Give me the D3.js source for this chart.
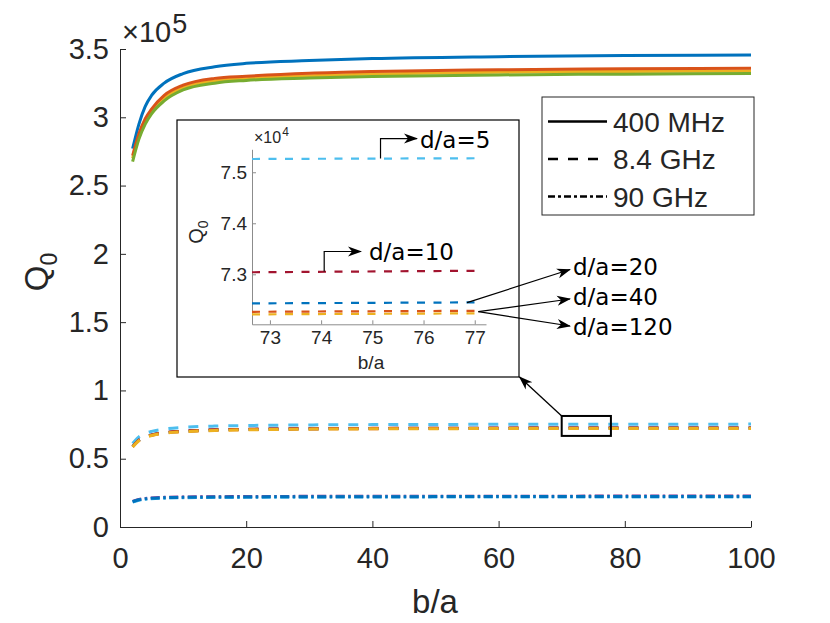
<!DOCTYPE html>
<html lang="en">
<head>
<meta charset="utf-8">
<script src="https://d3js.org/d3.v7.min.js"></script>
<style>
  body { margin: 0; background: #fff; }
  svg text { font-family: "Liberation Sans", Arial, sans-serif; fill: #262626; }
  svg text.ann { font-family: "DejaVu Sans", sans-serif; fill: #000; }
</style>
</head>
<body>
<div id="chart"></div>
<script>
  // b/a sample points
  const baRatio = [2, 3, 4, 5, 7, 10, 15, 20, 30, 40, 60, 80, 100];

  // 400 MHz, solid (x 1e5)
  const q400Blue   = [2.77, 2.95, 3.08, 3.16, 3.25, 3.32, 3.37, 3.395, 3.415, 3.43, 3.444, 3.452, 3.456];
  const q400Yellow = [2.70, 2.865, 2.975, 3.045, 3.14, 3.218, 3.267, 3.283, 3.304, 3.317, 3.33, 3.336, 3.339];
  const q400Orange = [2.72, 2.88, 2.99, 3.06, 3.16, 3.235, 3.285, 3.30, 3.322, 3.335, 3.348, 3.355, 3.359];
  const q400Green  = [2.675, 2.84, 2.95, 3.025, 3.12, 3.20, 3.25, 3.27, 3.287, 3.298, 3.31, 3.316, 3.32];

  // 8.4 GHz, dashed (x 1e5), one series per d/a
  const q84Da5   = [0.612, 0.660, 0.685, 0.700, 0.717, 0.729, 0.739, 0.743, 0.7475, 0.7497, 0.7518, 0.7528, 0.7533];
  const q84Da10  = [0.594, 0.641, 0.665, 0.679, 0.696, 0.707, 0.717, 0.721, 0.7255, 0.7277, 0.7297, 0.7307, 0.7312];
  const q84Da20  = [0.589, 0.636, 0.660, 0.674, 0.690, 0.701, 0.711, 0.715, 0.7195, 0.7217, 0.7237, 0.7246, 0.7251];
  const q84Da40  = [0.588, 0.634, 0.658, 0.672, 0.688, 0.699, 0.709, 0.713, 0.7178, 0.720, 0.722, 0.7229, 0.7234];
  const q84Da120 = [0.585, 0.632, 0.656, 0.670, 0.686, 0.697, 0.707, 0.711, 0.7165, 0.7187, 0.7207, 0.7216, 0.7221];

  // 90 GHz, dash-dot (x 1e5)
  const q90Purple = [0.188, 0.202, 0.209, 0.213, 0.217, 0.220, 0.222, 0.223, 0.2245, 0.225, 0.2258, 0.2262, 0.2265];
  const q90Cyan   = [0.182, 0.196, 0.203, 0.207, 0.211, 0.214, 0.216, 0.217, 0.2185, 0.219, 0.2198, 0.2202, 0.2205];
  const q90Blue   = [0.185, 0.199, 0.206, 0.210, 0.214, 0.217, 0.219, 0.220, 0.2215, 0.222, 0.2228, 0.2232, 0.2235];

  // inset (x 1e4), line ends at the inset axis limits
  const insetBa     = [72.65, 77.15];
  const insetDa5    = [7.526, 7.5275];
  const insetDa10   = [7.304, 7.307];
  const insetDa20   = [7.243, 7.245];
  const insetDa40   = [7.2265, 7.2285];
  const insetDa120  = [7.2215, 7.2235];

  const xTicks = [0, 20, 40, 60, 80, 100];
  const yTicks = [0, 0.5, 1, 1.5, 2, 2.5, 3, 3.5];
  const insetXTicks = [73, 74, 75, 76, 77];
  const insetYTicks = [7.3, 7.4, 7.5];
  const legendLabels = ["400 MHz", "8.4 GHz", "90 GHz"];
  const daLabels = ["d/a=5", "d/a=10", "d/a=20", "d/a=40", "d/a=120"];

  const svgWidth = 830, svgHeight = 623;

  const svg = d3.select("#chart")
    .append("svg")
    .attr("width", svgWidth)
    .attr("height", svgHeight);

  const x = d3.scaleLinear().domain([0, 100]).range([120, 751]);
  const y = d3.scaleLinear().domain([0, 3.5]).range([527, 49]);

  // arrow head
  svg.append("defs").append("marker")
    .attr("id", "head")
    .attr("viewBox", "0 -6 14 12")
    .attr("refX", 13).attr("refY", 0)
    .attr("markerWidth", 14).attr("markerHeight", 12)
    .attr("markerUnits", "userSpaceOnUse")
    .attr("orient", "auto")
    .append("path")
    .attr("d", "M0,-5L14,0L0,5L4,0Z")
    .attr("fill", "#000");

  // axes
  const xAxis = svg.append("g")
    .attr("transform", "translate(0,527)")
    .call(d3.axisBottom(x).tickValues(xTicks).tickSizeInner(-6).tickSizeOuter(0).tickPadding(20));
  const yAxis = svg.append("g")
    .attr("transform", "translate(120,0)")
    .call(d3.axisLeft(y).tickValues(yTicks).tickSizeInner(-6).tickSizeOuter(0).tickPadding(11)
      .tickFormat(d => String(d)));
  [xAxis, yAxis].forEach(g => {
    g.selectAll("path, line").attr("stroke", "#262626");
    g.selectAll("text").style("font-size", "29px").attr("fill", "#262626");
  });

  svg.append("text").attr("x", 122).attr("y", 42).style("font-size", "29px")
    .text("\u00d710")
    .append("tspan").attr("dx", 1).attr("dy", -9).style("font-size", "27px").text("5");

  svg.append("text")
    .attr("transform", "translate(48,272) rotate(-90)")
    .attr("text-anchor", "middle")
    .style("font-size", "33px")
    .text("Q")
    .append("tspan").attr("dy", 9).style("font-size", "23px").text("0");

  svg.append("text")
    .attr("x", 435).attr("y", 613)
    .attr("text-anchor", "middle")
    .style("font-size", "33px")
    .text("b/a");

  // main curves
  const line = d3.line()
    .x((d, i) => x(baRatio[i]))
    .y(d => y(d))
    .curve(d3.curveMonotoneX);

  const mainSeries = [
    {v: q90Purple, c: "#7E2F8E", dash: "9,3.5,2.5,3.5"},
    {v: q90Cyan,   c: "#4DBEEE", dash: "9,3.5,2.5,3.5"},
    {v: q90Blue,   c: "#0072BD", dash: "9,3.5,2.5,3.5"},
    {v: q84Da5,    c: "#4DBEEE", dash: "10,10"},
    {v: q84Da20,   c: "#0072BD", dash: "10,10"},
    {v: q84Da10,   c: "#A2142F", dash: "10,10", w: 1.5},
    {v: q84Da40,   c: "#D95319", dash: "10,10"},
    {v: q84Da120,  c: "#EDB120", dash: "10,10"},
    {v: q400Blue,   c: "#0072BD"},
    {v: q400Yellow, c: "#EDB120"},
    {v: q400Orange, c: "#D95319"},
    {v: q400Green,  c: "#77AC30"}
  ];

  svg.append("g").selectAll("path").data(mainSeries).enter().append("path")
    .attr("d", d => line(d.v))
    .attr("fill", "none")
    .attr("stroke", d => d.c)
    .attr("stroke-width", d => d.w || 3)
    .attr("stroke-dasharray", d => d.dash || null);

  // zoom rectangle
  svg.append("rect")
    .attr("x", x(70)).attr("y", y(0.813))
    .attr("width", x(77.8) - x(70)).attr("height", y(0.667) - y(0.813))
    .attr("fill", "none").attr("stroke", "#000").attr("stroke-width", 2);

  // legend
  const legend = svg.append("g");
  legend.append("rect")
    .attr("x", 542).attr("y", 97).attr("width", 212).attr("height", 118)
    .attr("fill", "#fff").attr("stroke", "#262626").attr("stroke-width", 1);
  const legendRowY = [121.5, 159, 196.5];
  const legendDash = [null, "10,10", "7,3,3,3"];
  legendLabels.forEach((lab, i) => {
    legend.append("line")
      .attr("x1", 548).attr("x2", 607)
      .attr("y1", legendRowY[i]).attr("y2", legendRowY[i])
      .attr("stroke", "#000").attr("stroke-width", 2.5)
      .attr("stroke-dasharray", legendDash[i]);
    legend.append("text")
      .attr("x", 613).attr("y", legendRowY[i]).attr("dy", "0.36em")
      .style("font-size", "28px").attr("fill", "#000")
      .text(lab);
  });

  // inset
  const inset = svg.append("g");
  inset.append("rect")
    .attr("x", 177).attr("y", 120).attr("width", 342).attr("height", 257)
    .attr("fill", "#fff").attr("stroke", "#000").attr("stroke-width", 1.2);

  svg.append("line")
    .attr("x1", x(70)).attr("y1", y(0.813))
    .attr("x2", 519.5).attr("y2", 377)
    .attr("stroke", "#000").attr("stroke-width", 1.3)
    .attr("marker-end", "url(#head)");

  const ix = d3.scaleLinear().domain([72.65, 77.22]).range([252, 486]);
  const iy = d3.scaleLinear().domain([7.202, 7.545]).range([324.3, 149.3]);

  const ixAxis = inset.append("g")
    .attr("transform", "translate(0,324.3)")
    .call(d3.axisBottom(ix).tickValues(insetXTicks).tickSizeInner(-4).tickSizeOuter(0).tickPadding(6)
      .tickFormat(d => String(d)));
  const iyAxis = inset.append("g")
    .attr("transform", "translate(252,0)")
    .call(d3.axisLeft(iy).tickValues(insetYTicks).tickSizeInner(-4).tickSizeOuter(0).tickPadding(5)
      .tickFormat(d3.format(".1f")));
  [ixAxis, iyAxis].forEach(g => {
    g.selectAll("path, line").attr("stroke", "#8c8c8c");
    g.selectAll("text").style("font-size", "19px").attr("fill", "#262626");
  });

  inset.append("text").attr("x", 254).attr("y", 143).style("font-size", "16px")
    .text("\u00d710")
    .append("tspan").attr("dx", 1).attr("dy", -7).style("font-size", "12px").text("4");

  inset.append("text")
    .attr("transform", "translate(203,232) rotate(-90)")
    .attr("text-anchor", "middle")
    .style("font-size", "20px")
    .text("Q")
    .append("tspan").attr("dy", 5).style("font-size", "14px").text("0");

  inset.append("text")
    .attr("x", 371).attr("y", 369)
    .attr("text-anchor", "middle")
    .style("font-size", "19px")
    .text("b/a");

  const insetLine = d3.line()
    .x((d, i) => ix(insetBa[i]))
    .y(d => iy(d));

  const insetSeries = [
    {v: insetDa5,   c: "#4DBEEE"},
    {v: insetDa10,  c: "#A2142F"},
    {v: insetDa20,  c: "#0072BD"},
    {v: insetDa120, c: "#EDB120"},
    {v: insetDa40,  c: "#D95319"}
  ];
  inset.append("g").selectAll("path").data(insetSeries).enter().append("path")
    .attr("d", d => insetLine(d.v))
    .attr("fill", "none")
    .attr("stroke", d => d.c)
    .attr("stroke-width", 2.2)
    .attr("stroke-dasharray", "8,8.5");

  // d/a annotations
  const ann = svg.append("g");
  const elbow = (bx, q, x2) => {
    const x0 = ix(bx), y0 = iy(q), yTop = y0 - 20;
    return "M" + x0 + "," + y0 + "V" + yTop + "H" + x2;
  };
  ann.append("path").attr("d", elbow(75.16, 7.5268, 417))
    .attr("fill", "none").attr("stroke", "#000").attr("stroke-width", 1.2).attr("marker-end", "url(#head)");
  ann.append("path").attr("d", elbow(74.06, 7.3055, 361))
    .attr("fill", "none").attr("stroke", "#000").attr("stroke-width", 1.2).attr("marker-end", "url(#head)");

  const straightArrows = [
    {bx: 76.85, q: 7.2445, tx: 570, ty: 269.5},
    {bx: 77.07, q: 7.2268, tx: 570, ty: 299},
    {bx: 77.07, q: 7.2268, tx: 570, ty: 326}
  ];
  straightArrows.forEach(a => {
    ann.append("line")
      .attr("x1", ix(a.bx)).attr("y1", iy(a.q))
      .attr("x2", a.tx).attr("y2", a.ty)
      .attr("stroke", "#000").attr("stroke-width", 1.2)
      .attr("marker-end", "url(#head)");
  });

  const daTextPos = [[420, 148], [369, 260], [573, 275], [573, 304.5], [573, 334.5]];
  daLabels.forEach((t, i) => {
    ann.append("text").attr("class", "ann")
      .attr("x", daTextPos[i][0]).attr("y", daTextPos[i][1])
      .style("font-size", "23px")
      .text(t);
  });
</script>
</body>
</html>
